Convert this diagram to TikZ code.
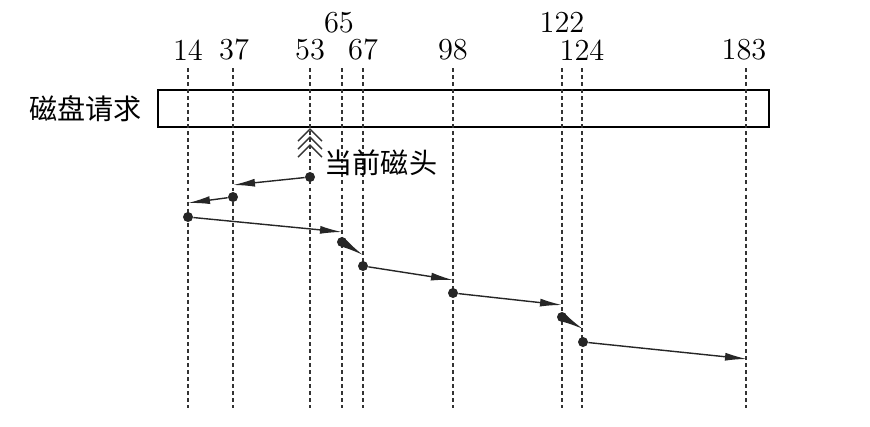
\documentclass[tikz,border=0pt]{standalone}
\usepackage{fontspec}
\newfontfamily\cjk{Noto Sans CJK SC}
\usetikzlibrary{arrows.meta,positioning}

\tikzset{
  guide/.style={draw=black!80, line width=0.6pt, dash pattern=on 1.7pt off 1.3pt},
  trackpt/.style={circle, fill=black!85, inner sep=0pt, minimum size=1.5mm},
  seek/.style={draw=black!85, line width=0.6pt, -{Latex[length=3.3mm,width=1.2mm]}},
  cyl/.style={inner sep=1pt, font=\fontsize{13}{15}\selectfont},
}

\begin{document}
\begin{tikzpicture}[x=0.015cm, y=-0.015cm]
\useasboundingbox (0,0) rectangle (870,426);

% cylinder numbers
\node[cyl] (n14)  at (188,50) {14};
\node[cyl] (n37)  at (234,50) {37};
\node[cyl] (n53)  at (310,50) {53};
\node[cyl] (n65)  at (339,23) {65};
\node[cyl] (n67)  at (363,50) {67};
\node[cyl] (n98)  at (453,50) {98};
\node[cyl] (n122) at (562,22) {122};
\node[cyl] (n124) at (582,50) {124};
\node[cyl] (n183) at (744,50) {183};

% request queue
\node[draw, line width=1.2pt, minimum width=9.165cm, minimum height=0.555cm] (disk) at (463.5,108.5) {};
\node[left=0.1cm of disk, font=\cjk\fontsize{12}{14}\selectfont] (req) {磁盘请求};

\draw[guide] (188,68) -- (188,408);
\draw[guide] (233,68) -- (233,408);
\draw[guide] (310,68) -- (310,408);
\draw[guide] (342,68) -- (342,408);
\draw[guide] (363,68) -- (363,408);
\draw[guide] (453,68) -- (453,408);
\draw[guide] (562,68) -- (562,408);
\draw[guide] (582,68) -- (582,408);
\draw[guide] (746,68) -- (746,408);

% current head
\draw[line width=0.6pt, black!80] (298,141) -- (310,129) -- (322,141);
\draw[line width=0.6pt, black!80] (298,149) -- (310,137) -- (322,149);
\draw[line width=0.6pt, black!80] (298,157) -- (310,145) -- (322,157);
\node[font=\cjk\fontsize{12}{14}\selectfont] (head) at (381,163) {当前磁头};

% seek path
\node[trackpt] (p53)  at (310,177) {};
\coordinate (e37) at (233,185);
\node[trackpt] (p37)  at (233,197) {};
\coordinate (e14) at (188,203);
\node[trackpt] (p14)  at (188,217) {};
\coordinate (e65) at (342,232);
\node[trackpt] (p65)  at (342,242) {};
\coordinate (e67) at (363,255);
\node[trackpt] (p67)  at (363,266) {};
\coordinate (e98) at (453,280);
\node[trackpt] (p98)  at (453,293) {};
\coordinate (e122) at (562,305);
\node[trackpt] (p122) at (562,317) {};
\coordinate (e124) at (583,329);
\node[trackpt] (p124) at (583,342) {};
\coordinate (e183) at (747,359);

\draw[seek] (p53) -- (e37);
\draw[seek] (p37) -- (e14);
\draw[seek] (p14) -- (e65);
\draw[seek] (p65) -- (e67);
\draw[seek] (p67) -- (e98);
\draw[seek] (p98) -- (e122);
\draw[seek] (p122) -- (e124);
\draw[seek] (p124) -- (e183);

\end{tikzpicture}
\end{document}
